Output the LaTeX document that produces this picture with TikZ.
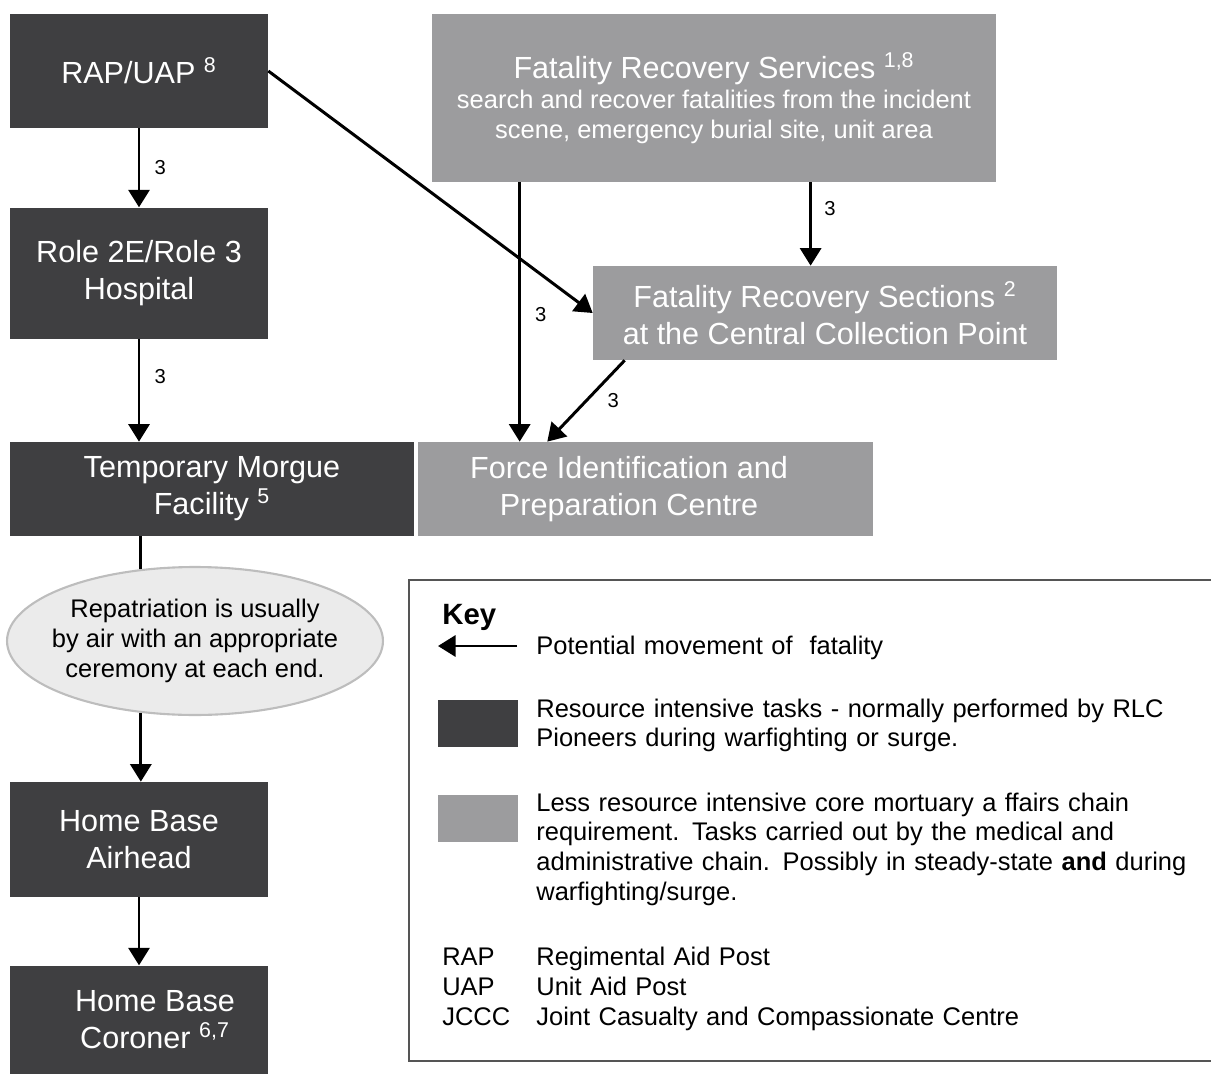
\documentclass[tikz,border=0pt]{standalone}
\usepackage{fontspec}
\setmainfont{Liberation Sans}
\usetikzlibrary{arrows.meta,positioning,shapes.geometric}

\definecolor{taskdark}{HTML}{3F3F41}
\definecolor{taskgrey}{HTML}{9C9C9E}
\definecolor{ovalfill}{HTML}{EBEBEB}
\definecolor{ovalline}{HTML}{BDBDBD}
\definecolor{keyline}{HTML}{555555}

\newcommand{\bigtxt}{\fontsize{17.4}{21}\selectfont}
\newcommand{\smalltxt}{\fontsize{14.5}{17}\selectfont}
\newcommand{\numtxt}{\fontsize{11.5}{13}\selectfont}
\newcommand{\fnote}[1]{\textsuperscript{#1}}

\begin{document}
\begin{tikzpicture}[
    x=0.02cm, y=-0.02cm,
    darkbox/.style={rectangle, fill=taskdark, text=white, font=\bigtxt, align=center, inner sep=0pt, minimum width=5.16cm},
    lightbox/.style={rectangle, fill=taskgrey, text=white, font=\bigtxt, align=center, inner sep=0pt},
    boxtext/.style={text=white, font=\bigtxt, align=center, inner sep=0pt},
    arrow/.style={-{Triangle[width=12pt,length=10pt]}, line width=1.7pt},
    num/.style={font=\numtxt, inner sep=1pt},
    keytext/.style={anchor=base west, font=\smalltxt, inner sep=0pt, text width=14cm, align=left},
    swatch/.style={rectangle, minimum width=1.6cm, minimum height=0.94cm, inner sep=0pt}
]
\useasboundingbox (0,0) rectangle (1211,1075);

% left column
\node[darkbox, minimum height=2.28cm] (rap) at (139,71) {RAP/UAP \fnote{8}};
\node[darkbox, minimum height=2.62cm, below=1.58cm of rap] (role) {Role 2E/Role 3\\Hospital};
\node[darkbox, minimum width=8.08cm, minimum height=1.88cm] (tmf) at (212,489) {Temporary Morgue\\Facility \fnote{5}};
\node[lightbox, minimum width=9.1cm, minimum height=1.88cm, right=0.06cm of tmf] (fipc) {};
\node[boxtext] (fipctext) at ([xshift=-0.32cm]fipc.center) {Force Identification and\\Preparation Centre};

% recovery boxes
\node[lightbox, minimum width=11.28cm, minimum height=3.36cm, text width=11cm, align=flush center] (frs) at (714,98)
    {Fatality Recovery Services \fnote{1,8}\par\smalltxt search and recover fatalities from the incident\\scene, emergency burial site, unit area\par};
\node[lightbox, minimum width=9.28cm, minimum height=1.88cm] (frsec) at (825,313) {Fatality Recovery Sections \fnote{2}\\at the Central Collection Point};

% repatriation
\node[ellipse, fill=ovalfill, draw=ovalline, line width=1.2pt, minimum width=7.52cm, minimum height=2.96cm, inner sep=0pt] (repat) at (195,641) {};
\node[align=center, font=\smalltxt, inner sep=0pt] (repattext) at (repat.center)
    {Repatriation is usually\\by air with an appropriate\\ceremony at each end.};
\node[darkbox, minimum height=2.3cm] (airhead) at (139,839.5) {Home Base\\Airhead};
\node[darkbox, minimum height=2.16cm, below=1.36cm of airhead] (coroner) {};
\node[boxtext] (coronertext) at ([xshift=0.32cm]coroner.center) {Home Base\\Coroner \fnote{6,7}};

% connectors
\coordinate (frsleft) at ([xshift=1.76cm]frs.south west);
\coordinate (frsright) at ([xshift=7.58cm]frs.south west);
\coordinate (frsecfoot) at ([xshift=0.64cm]frsec.south west);
\coordinate (fipctop) at ([xshift=2.6cm]fipc.north west);

\draw[arrow] (rap) -- node[num, right=7pt] {3} (role);
\draw[arrow] (role) -- node[num, right=7pt, pos=0.37] {3} (role |- tmf.north);
\draw[arrow] (rap.east) -- (frsec.west);
\draw[arrow] (frsleft) -- node[num, right=7pt, pos=0.51] {3} (frsleft |- fipc.north);
\draw[arrow] (frsright) -- node[num, right=6pt, pos=0.32] {3} (frsright |- frsec.north);
\draw[arrow] (frsecfoot) -- node[num, right=10.5pt] {3} (fipctop);
\draw[line width=1.7pt] (repat.127 |- tmf.south) -- (repat.127);
\draw[arrow] (repat.233) -- (repat.233 |- airhead.north);
\draw[arrow] (airhead) -- (coroner);

% key
\node[draw=keyline, line width=1.1pt, minimum width=16.12cm, minimum height=9.62cm, inner sep=0pt] (keybox) at (812,820.5) {};
\node[anchor=base west, font=\bfseries\fontsize{16.7}{20}\selectfont, inner sep=0pt] (keytitle) at (442,624) {Key};
\coordinate (movestart) at (517,646);
\coordinate (moveend) at (438,646);
\draw[arrow] (movestart) -- (moveend);
\node[keytext] (movetext) at (536,654) {Potential movement of \ fatality};
\node[swatch, fill=taskdark] (darkswatch) at (478,723.5) {};
\node[keytext] (darktext) at (536,717) {Resource intensive tasks - normally performed by RLC\\Pioneers during warfighting or surge.};
\node[swatch, fill=taskgrey] (greyswatch) at (478,818.5) {};
\node[keytext] (greytext) at (536,811) {Less resource intensive core mortuary a ffairs chain\\requirement. Tasks carried out by the medical and\\administrative chain. Possibly in steady-state \textbf{and} during\\warfighting/surge.};
\foreach \abbr/\desc [count=\i] in {RAP/Regimental Aid Post, UAP/Unit Aid Post, JCCC/Joint Casualty and Compassionate Centre}{
    \node[keytext, text width=2cm] (abbr\i) at (442,935+30*\i) {\abbr};
    \node[keytext] (desc\i) at (536,935+30*\i) {\desc};
}
\end{tikzpicture}
\end{document}
